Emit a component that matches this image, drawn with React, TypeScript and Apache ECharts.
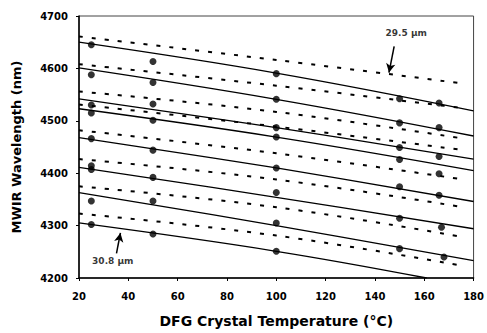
import React, { useEffect, useRef } from "react";
import * as echarts from "echarts";

// Solid (fitted) curves: values at x = 20, 100, 180
const solidX = [20, 100, 180];
const solid1 = [4650, 4591, 4519];
const solid2 = [4601, 4541, 4471];
const solid3 = [4542, 4487, 4427];
const solid4 = [4523, 4469, 4405];
const solid5 = [4468, 4410, 4346];
const solid6 = [4411, 4354, 4294];
const solid7 = [4363, 4300, 4233];
// last solid curve leaves the plot at the x axis
const solid8X = [20, 100, 161];
const solid8 = [4305, 4251, 4200];

// Dashed curves: values at x = 20, 100, 176
const dashX = [20, 100, 176];
const dash1 = [4661, 4616, 4571];
const dash2 = [4608, 4567, 4524];
const dash3 = [4556, 4517, 4466];
const dash4 = [4531, 4489, 4444];
const dash5 = [4482, 4438, 4388];
const dash6 = [4427, 4388, 4335];
const dash7 = [4375, 4335, 4278];
const dash8 = [4323, 4281, 4223];

// Measured points
const ptsX25 = [25, 25, 25, 25, 25, 25, 25, 25, 25];
const ptsY25 = [4645, 4588, 4530, 4515, 4466, 4414, 4407, 4347, 4302];
const ptsX50 = [50, 50, 50, 50, 50, 50, 50, 50];
const ptsY50 = [4613, 4573, 4532, 4501, 4444, 4392, 4347, 4284];
const ptsX100 = [100, 100, 100, 100, 100, 100, 100, 100];
const ptsY100 = [4590, 4541, 4487, 4469, 4410, 4363, 4305, 4251];
const ptsX150 = [150, 150, 150, 150, 150, 150, 150];
const ptsY150 = [4542, 4496, 4449, 4426, 4374, 4314, 4256];
const ptsX166 = [166, 166, 166, 166, 166, 167, 168];
const ptsY166 = [4534, 4487, 4432, 4399, 4358, 4297, 4240];

// Annotations
const noteLabels = ["29.5 µm", "30.8 µm"];
const notePos = [
  [152.7, 4668],
  [33.7, 4233],
];
const arrowFrom = [
  [147.8, 4642],
  [35.2, 4247],
];
const arrowTo = [
  [145.7, 4592],
  [36.8, 4286],
];

const FONT = "DejaVu Sans";

function pair(xs: number[], ys: number[]) {
  return ys.map((y, i) => [xs[i], y]);
}

export default function App() {
  const ref = useRef<HTMLDivElement>(null);
  useEffect(() => {
    if (!ref.current) return;
    const chart = echarts.init(ref.current, undefined, { renderer: "svg" });

    const solids = [solid1, solid2, solid3, solid4, solid5, solid6, solid7];
    const dashes = [dash1, dash2, dash3, dash4, dash5, dash6, dash7, dash8];

    const series: any[] = [];
    solids.forEach((s) => {
      series.push({
        type: "line",
        data: pair(solidX, s),
        symbol: "none",
        smooth: 0.4,
        lineStyle: { color: "#000", width: 1.3 },
        z: 2,
      });
    });
    series.push({
      type: "line",
      data: pair(solid8X, solid8),
      symbol: "none",
      smooth: 0.4,
      lineStyle: { color: "#000", width: 1.3 },
      z: 2,
    });
    dashes.forEach((d) => {
      series.push({
        type: "line",
        data: pair(dashX, d),
        symbol: "none",
        smooth: 0.4,
        lineStyle: { color: "#000", width: 2, type: [4, 9], cap: "butt" },
        z: 2,
      });
    });
    series.push({
      type: "scatter",
      data: [
        ...pair(ptsX25, ptsY25),
        ...pair(ptsX50, ptsY50),
        ...pair(ptsX100, ptsY100),
        ...pair(ptsX150, ptsY150),
        ...pair(ptsX166, ptsY166),
      ],
      symbol: "circle",
      symbolSize: 7,
      itemStyle: { color: "#000" },
      z: 3,
    });
    series.push({
      type: "scatter",
      data: notePos.map((p, i) => ({
        value: p,
        label: { formatter: noteLabels[i] },
      })),
      symbolSize: 0,
      itemStyle: { color: "transparent" },
      label: {
        show: true,
        position: "inside",
        color: "#000",
        fontFamily: FONT,
        fontWeight: "bold",
        fontSize: 9,
      },
      markLine: {
        silent: true,
        symbol: ["none", "arrow"],
        symbolSize: [7, 9],
        label: { show: false },
        lineStyle: { color: "#000", width: 1.5, type: "solid" },
        data: arrowFrom.map((f, i) => [{ coord: f }, { coord: arrowTo[i] }]),
      },
      z: 4,
    });

    chart.setOption({
      animation: false,
      backgroundColor: "#fff",
      grid: {
        left: 79,
        right: 10,
        top: 16,
        bottom: 52,
        show: true,
        borderColor: "#444",
        borderWidth: 1,
      },
      xAxis: {
        type: "value",
        min: 20,
        max: 180,
        interval: 20,
        name: "DFG Crystal Temperature (°C)",
        nameLocation: "middle",
        nameGap: 36,
        nameTextStyle: {
          fontFamily: FONT,
          fontWeight: "bold",
          fontSize: 14,
          color: "#000",
        },
        axisLine: { show: true, lineStyle: { color: "#000", width: 1.5 } },
        axisTick: { show: true, length: 3, lineStyle: { color: "#000" } },
        axisLabel: {
          margin: 13,
          fontFamily: FONT,
          fontWeight: "bold",
          fontSize: 10,
          color: "#000",
          formatter: (v: number) => String(v),
        },
        splitLine: { show: false },
      },
      yAxis: {
        type: "value",
        min: 4200,
        max: 4700,
        interval: 100,
        name: "MWIR Wavelength (nm)",
        nameLocation: "middle",
        nameGap: 56,
        nameTextStyle: {
          fontFamily: FONT,
          fontWeight: "bold",
          fontSize: 13,
          color: "#000",
        },
        axisLine: { show: true, lineStyle: { color: "#000", width: 1.5 } },
        axisTick: { show: true, length: 3, lineStyle: { color: "#000" } },
        axisLabel: {
          margin: 11,
          fontFamily: FONT,
          fontWeight: "bold",
          fontSize: 10,
          color: "#000",
          formatter: (v: number) => String(v),
        },
        splitLine: { show: false },
      },
      series,
    });
    return () => chart.dispose();
  }, []);
  return (
    <div
      ref={ref}
      style={{
        position: "fixed",
        left: 0,
        top: 0,
        width: 487,
        height: 333,
        background: "#fff",
      }}
    />
  );
}
